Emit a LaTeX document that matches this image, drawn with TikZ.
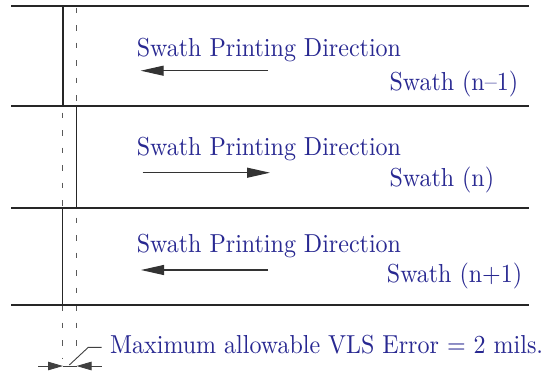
\documentclass[tikz,border=0pt]{standalone}
\usepackage{fontspec}
\newfontfamily\timesx{lmroman10-regular.otf}[Ligatures=TeX, FakeStretch=0.923]
\usetikzlibrary{arrows.meta}
\definecolor{txtblue}{RGB}{40,40,145}
\begin{document}
\begin{tikzpicture}[x=1pt,y=-1pt,
  sepline/.style={line width=2pt, draw=black!85},
  solidv/.style={line width=1.4pt, draw=black!85},
  dashv/.style={line width=1pt, dash pattern=on 5.5pt off 12pt, draw=black!65},
  lbl/.style={anchor=base west, inner sep=0pt, text=txtblue, font=\timesx\fontsize{26}{30}\selectfont},
  dirarrow/.style={line width=1.1pt, draw=black!80, -{Triangle[length=23pt,width=10pt]}},
  dimarrow/.style={line width=0.9pt, draw=black!75, -{Triangle[length=15pt,width=8.5pt]}},
  thinline/.style={line width=0.9pt, draw=black!75},
]
\useasboundingbox (0,0) rectangle (553,373);
% coordinates
\coordinate (A1) at (11,6);     \coordinate (B1) at (529,6);
\coordinate (A2) at (11,105.7); \coordinate (B2) at (529,105.7);
\coordinate (A3) at (11,208);   \coordinate (B3) at (529,208);
\coordinate (A4) at (11,305);   \coordinate (B4) at (529,305);
% dashed guide lines
\coordinate (dL0) at (62.7,7.5);  \coordinate (dL1) at (62.7,358);
\coordinate (dR0) at (76.7,7.5);  \coordinate (dR1) at (76.7,358);
\draw[dashv] (dL0) -- (dL1);
\draw[dashv] (dR0) -- (dR1);
% solid stitch lines
\draw[solidv] (63,6) -- (63,105.7);
\draw[solidv] (76.5,105.7) -- (76.5,208);
\draw[solidv] (62.7,208) -- (62.7,305);
% separators
\draw[sepline] (A1) -- (B1);
\draw[sepline] (A2) -- (B2);
\draw[sepline] (A3) -- (B3);
\draw[sepline] (A4) -- (B4);
% swath 1
\node[lbl] (t1) at (136.7,56) {Swath Printing Direction};
\coordinate (a1s) at (268,70.7); \coordinate (a1e) at (140.7,70.7);
\draw[dirarrow] (a1s) -- (a1e);
\node[lbl] (s1) at (389.3,90) {Swath (n–1)};
% swath 2
\node[lbl] (t2) at (136.7,155) {Swath Printing Direction};
\coordinate (a2s) at (142.7,172.7); \coordinate (a2e) at (270,172.7);
\draw[dirarrow] (a2s) -- (a2e);
\node[lbl] (s2) at (389.3,186.7) {Swath (n)};
% swath 3
\node[lbl] (t3) at (136.7,252) {Swath Printing Direction};
\coordinate (a3s) at (268,270); \coordinate (a3e) at (141,270);
\draw[dirarrow] (a3s) -- (a3e);
\node[lbl] (s3) at (386.7,282.3) {Swath (n+1)};
% dimension
\coordinate (d1) at (38.3,366);
\coordinate (d2) at (63,366);
\coordinate (d3) at (76.5,366);
\coordinate (d4) at (101.7,366);
\draw[dimarrow] (d1) -- (d2);
\draw[dimarrow] (d4) -- (d3);
\draw[thinline] (d2) -- (d3);
\coordinate (k0) at (69.3,365);
\coordinate (k1) at (88.3,347.3);
\coordinate (k2) at (101.7,347.3);
\draw[thinline] (k0) -- (k1) -- (k2);
\node[lbl] (err) at (110,353) {Maximum allowable VLS Error = 2 mils.};
\end{tikzpicture}
\end{document}
